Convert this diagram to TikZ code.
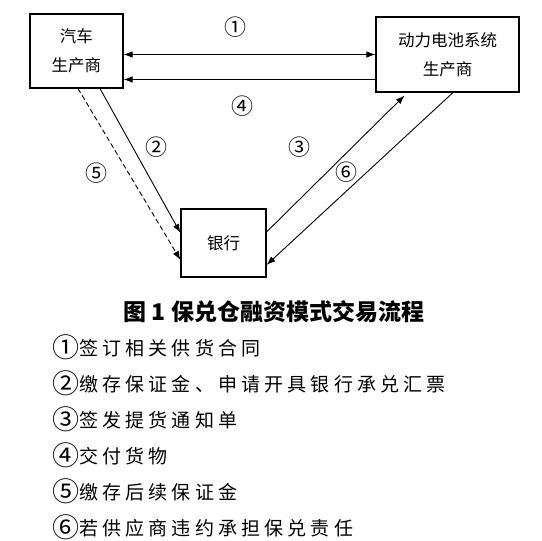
\documentclass[tikz,border=0pt]{standalone}
\usepackage{fontspec}
\newfontfamily\cjk{Noto Sans CJK SC}
\newfontfamily\cjksp{Noto Sans CJK SC}[LetterSpace=22]
\newcommand\cnum[1]{\raisebox{-2pt}{\fontsize{27}{19}\selectfont #1}}
\usetikzlibrary{arrows.meta}
\begin{document}
\begin{tikzpicture}[x=1pt,y=-1pt,
  box/.style={draw,line width=1.1pt,inner sep=0pt,align=center,font=\cjk\fontsize{16.5}{29}\selectfont},
  conn/.style={line width=0.9pt,-{Latex[length=9pt,width=6.5pt]}},
  lbl/.style={font=\cjk\fontsize{22}{22}\selectfont,inner sep=0pt},
  item/.style={anchor=west,inner sep=0pt,font=\cjksp\fontsize{19}{19}\selectfont}]
\useasboundingbox (0,0) rectangle (542,541);
\fill[white] (0,0) rectangle (542,541);
\node[box,minimum width=93pt,minimum height=74pt] (car) at (76.5,51) {汽车\\生产商};
\node[box,minimum width=143pt,minimum height=75pt] (bat) at (447.5,54.5) {动力电池系统\\生产商};
\node[box,minimum width=85pt,minimum height=68pt] (bank) at (223.5,243) {银行};
% 1
\draw[conn,{Latex[length=9pt,width=6.5pt]}-{Latex[length=9pt,width=6.5pt]}] (car.east |- bat.west) -- (bat.west);
% 4
\coordinate (s4) at ([yshift=-25pt]bat.west);
\coordinate (e4) at (s4 -| car.east);
\draw[conn] (s4) -- (e4);
% 2
\draw[conn] ([xshift=23.5pt]car.south) -- ([yshift=10pt]bank.west);
% 5
\draw[conn,dashed,dash pattern=on 5pt off 3pt] ([xshift=1.5pt]car.south) -- ([yshift=-17pt]bank.west);
% 3
\draw[conn,shorten >=4pt] ([yshift=11pt]bank.east) -- ([xshift=-40pt]bat.south);
% 6
\draw[conn] ([xshift=5.5pt]bat.south) -- ([yshift=-22pt]bank.east);
% labels
\node[lbl] (l1) at (235,27) {①};
\node[lbl] (l4) at (242,106) {④};
\node[lbl] (l2) at (156,147) {②};
\node[lbl] (l3) at (299,147) {③};
\node[lbl] (l5) at (96,173) {⑤};
\node[lbl] (l6) at (346,172) {⑥};
% title
\node[inner sep=0pt,font=\cjk\bfseries\fontsize{23}{23}\selectfont] (title) at (274,312) {图 1 保兑仓融资模式交易流程};
% list
\node[item] (i1) at (52,347) {\cnum{①}签订相关供货合同};
\node[item] (i2) at (52,383) {\cnum{②}缴存保证金、申请开具银行承兑汇票};
\node[item] (i3) at (52,419) {\cnum{③}签发提货通知单};
\node[item] (i4) at (52,455) {\cnum{④}交付货物};
\node[item] (i5) at (52,491) {\cnum{⑤}缴存后续保证金};
\node[item] (i6) at (52,527) {\cnum{⑥}若供应商违约承担保兑责任};
\end{tikzpicture}
\end{document}
